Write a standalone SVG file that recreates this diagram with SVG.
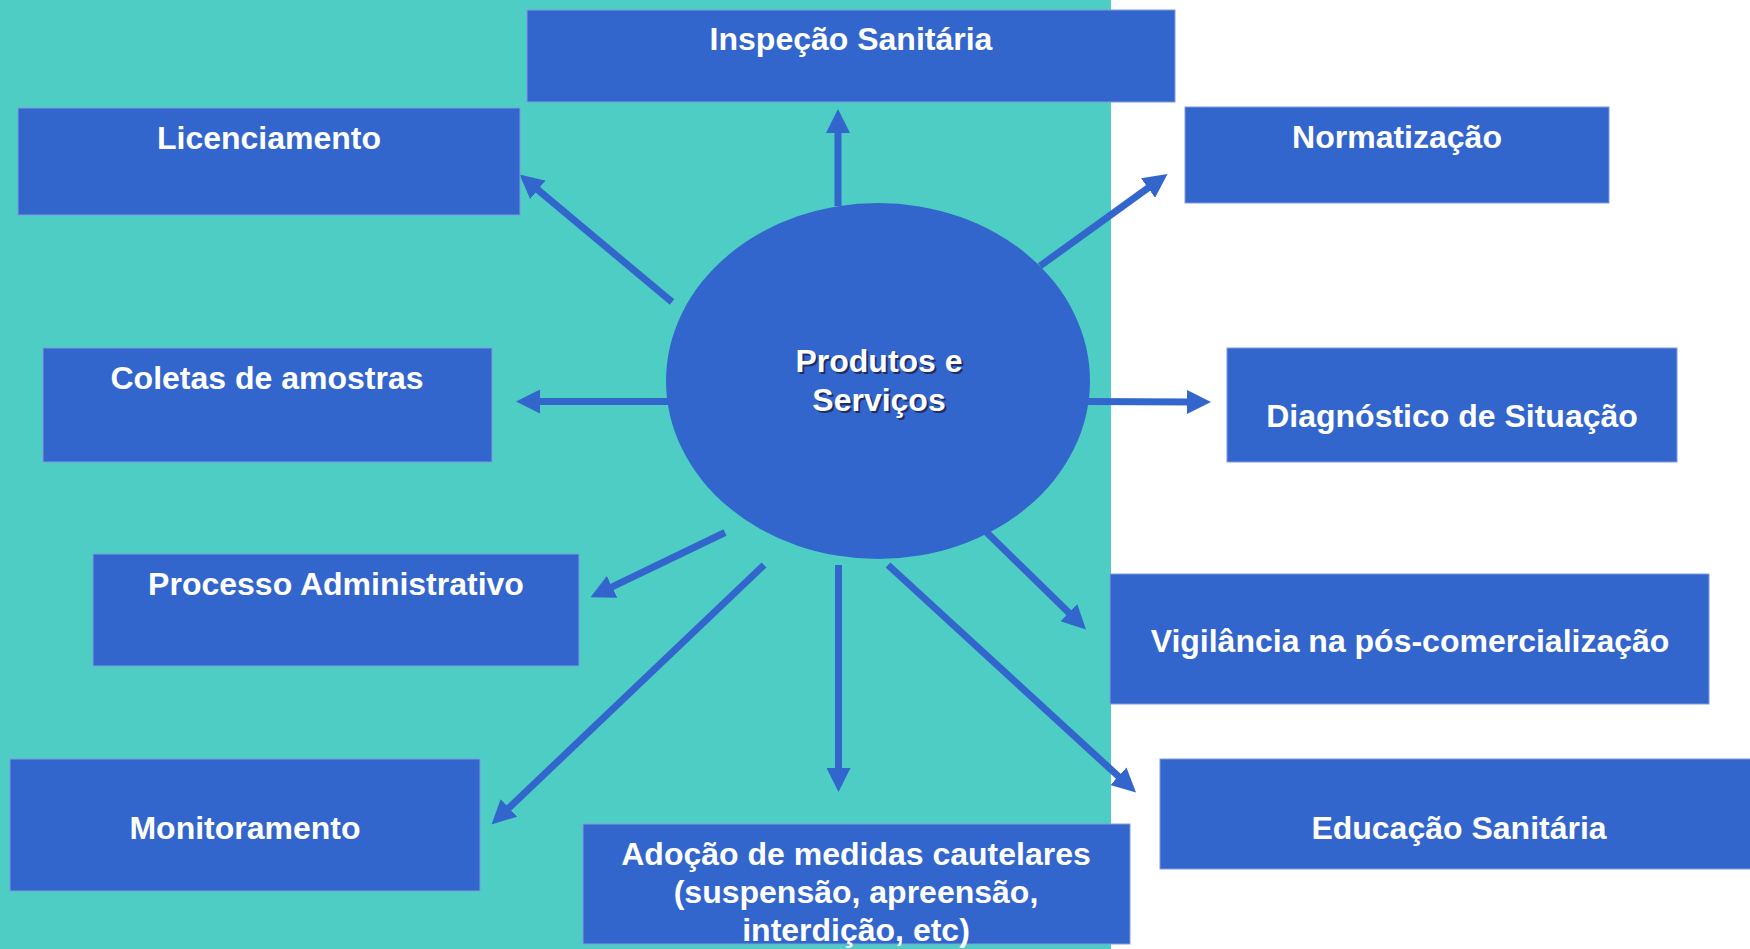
<svg xmlns="http://www.w3.org/2000/svg" width="1750" height="949" viewBox="0 0 1750 949">
<style>
.box{fill:#3366CC;stroke:#7E9BE0;stroke-width:1}
.t{font-family:"Liberation Sans",Arial,sans-serif;font-weight:bold;font-size:32px;fill:#FFFFFF;text-anchor:middle}
.sh{font-family:"Liberation Sans",Arial,sans-serif;font-weight:bold;font-size:32px;fill:#1A1A40;fill-opacity:0.75;text-anchor:middle}
.c{stroke:#3366CC;stroke-width:7;fill:none;marker-end:url(#ah)}
</style>
<defs>
<marker id="ah" viewBox="0 0 24 24" markerWidth="24" markerHeight="24" markerUnits="userSpaceOnUse" refX="4" refY="12" orient="auto">
<path d="M0,0 L24,12 L0,24 z" fill="#3366CC"/>
</marker>
</defs>
<rect x="0" y="0" width="1750" height="949" fill="#FFFFFF"/>
<rect x="0" y="0" width="1111" height="949" fill="#4ECDC4"/>
<g id="connectors">
<line class="c" x1="838" y1="206" x2="838" y2="129"/>
<line class="c" x1="672" y1="302" x2="534.8" y2="187.3"/>
<line class="c" x1="1040" y1="266" x2="1151.3" y2="185.7"/>
<line class="c" x1="669" y1="401.5" x2="536" y2="401.5"/>
<line class="c" x1="1088" y1="401.5" x2="1191" y2="402"/>
<line class="c" x1="725" y1="532.5" x2="608.5" y2="588.6"/>
<line class="c" x1="764" y1="565" x2="506" y2="810.7"/>
<line class="c" x1="838.5" y1="565" x2="838.5" y2="772"/>
<line class="c" x1="986.5" y1="532.3" x2="1071.7" y2="615.5"/>
<line class="c" x1="888" y1="565" x2="1121.3" y2="779"/>
</g>
<g id="center">
<ellipse cx="878" cy="381" rx="212" ry="178" fill="#3366CC"/>
<text class="sh" x="881" y="373.5">Produtos e</text>
<text class="sh" x="881" y="413">Serviços</text>
<text class="t" x="879" y="371.5">Produtos e</text>
<text class="t" x="879" y="411">Serviços</text>
</g>
<g id="inspecao">
<rect class="box" x="527" y="10" width="648" height="92"/>
<text class="t" x="851" y="50">Inspeção Sanitária</text>
</g>
<g id="licenciamento">
<rect class="box" x="18" y="108" width="502" height="107"/>
<text class="t" x="269" y="148.5">Licenciamento</text>
</g>
<g id="normatizacao">
<rect class="box" x="1185" y="107" width="424" height="96"/>
<text class="t" x="1397" y="148">Normatização</text>
</g>
<g id="coletas">
<rect class="box" x="43" y="348" width="449" height="114"/>
<text class="t" x="267" y="388.5">Coletas de amostras</text>
</g>
<g id="diagnostico">
<rect class="box" x="1227" y="348" width="450" height="114"/>
<text class="t" x="1452" y="427">Diagnóstico de Situação</text>
</g>
<g id="processo">
<rect class="box" x="93" y="554" width="486" height="112"/>
<text class="t" x="336" y="595">Processo Administrativo</text>
</g>
<g id="vigilancia">
<rect class="box" x="1110" y="574" width="599" height="130"/>
<text class="t" x="1410" y="652">Vigilância na pós-comercialização</text>
</g>
<g id="monitoramento">
<rect class="box" x="10" y="759" width="470" height="132"/>
<text class="t" x="245" y="838.5">Monitoramento</text>
</g>
<g id="educacao">
<rect class="box" x="1160" y="759" width="598" height="110"/>
<text class="t" x="1459" y="838.5">Educação Sanitária</text>
</g>
<g id="adocao">
<rect class="box" x="583" y="824" width="547" height="120"/>
<text class="t" x="856" y="865">Adoção de medidas cautelares</text>
<text class="t" x="856" y="903">(suspensão, apreensão,</text>
<text class="t" x="856" y="940.5">interdição, etc)</text>
</g>
</svg>
